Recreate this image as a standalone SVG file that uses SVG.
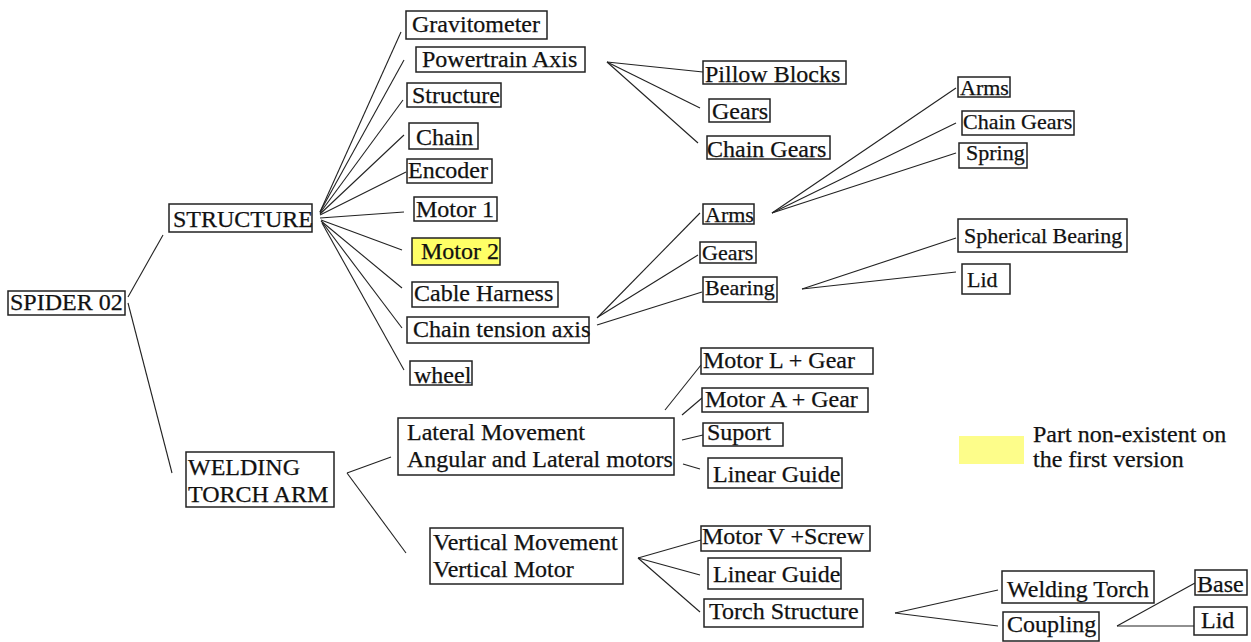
<svg xmlns="http://www.w3.org/2000/svg" width="1251" height="642" viewBox="0 0 1251 642" font-family="'Liberation Serif', 'Times New Roman', serif">
<style>
.b{fill:#fff;stroke:#222;stroke-width:1.5}
.y{fill:#ffff66;stroke:#222;stroke-width:1.5}
text{font-family:"Liberation Serif","Times New Roman",serif;font-size:24px;fill:#111;stroke:#111;stroke-width:0.25}
.s{font-size:22px}
#connectors line{stroke:#222;stroke-width:1.1}
</style>
<rect width="1251" height="642" fill="#fff"/>
<g id="connectors">
<line x1="128" y1="297" x2="163" y2="235"/>
<line x1="128" y1="303" x2="172" y2="473"/>
<line x1="320" y1="212" x2="401" y2="32"/>
<line x1="320" y1="212" x2="404" y2="60"/>
<line x1="320" y1="213" x2="403" y2="100"/>
<line x1="320" y1="214" x2="404" y2="135"/>
<line x1="320" y1="215" x2="406" y2="172"/>
<line x1="320" y1="218" x2="404" y2="212"/>
<line x1="321" y1="220" x2="402" y2="250"/>
<line x1="321" y1="221" x2="402" y2="288"/>
<line x1="322" y1="222" x2="402" y2="328"/>
<line x1="322" y1="223" x2="404" y2="370"/>
<line x1="607" y1="62" x2="703" y2="72"/>
<line x1="607" y1="62" x2="700" y2="108"/>
<line x1="607" y1="62" x2="698" y2="143"/>
<line x1="597" y1="318" x2="700" y2="213"/>
<line x1="598" y1="317" x2="698" y2="255"/>
<line x1="597" y1="325" x2="702" y2="292"/>
<line x1="772" y1="213" x2="956" y2="88"/>
<line x1="772" y1="213" x2="956" y2="123"/>
<line x1="772" y1="213" x2="956" y2="153"/>
<line x1="802" y1="289" x2="956" y2="238"/>
<line x1="802" y1="289" x2="956" y2="272"/>
<line x1="347" y1="473" x2="391" y2="457"/>
<line x1="347" y1="473" x2="406" y2="553"/>
<line x1="665" y1="410" x2="701" y2="365"/>
<line x1="682" y1="415" x2="702" y2="398"/>
<line x1="682" y1="440" x2="703" y2="435"/>
<line x1="683" y1="464" x2="700" y2="469"/>
<line x1="638" y1="558" x2="701" y2="540"/>
<line x1="638" y1="558" x2="700" y2="575"/>
<line x1="638" y1="558" x2="700" y2="612"/>
<line x1="895" y1="613" x2="998" y2="590"/>
<line x1="895" y1="613" x2="998" y2="626"/>
<line x1="1117" y1="626" x2="1195" y2="583"/>
<line x1="1117" y1="626" x2="1195" y2="626"/>
</g>
<g id="spider"><rect class="b" x="8" y="291" width="117" height="24"/><text x="10" y="310">SPIDER 02</text></g>
<g id="structure"><rect class="b" x="169" y="204" width="143" height="28"/><text x="173" y="227">STRUCTURE</text></g>
<g id="welding-torch-arm"><rect class="b" x="186" y="452" width="148" height="55"/><text x="188" y="475">WELDING</text><text x="188" y="502">TORCH ARM</text></g>
<g id="gravitometer"><rect class="b" x="406" y="11" width="141" height="28"/><text x="412" y="32">Gravitometer</text></g>
<g id="powertrain"><rect class="b" x="416" y="47" width="169" height="25"/><text x="422" y="67">Powertrain Axis</text></g>
<g id="structure-part"><rect class="b" x="407" y="83" width="94" height="24"/><text x="412" y="103">Structure</text></g>
<g id="chain"><rect class="b" x="409" y="123" width="69" height="26"/><text x="416" y="145">Chain</text></g>
<g id="encoder"><rect class="b" x="407" y="159" width="85" height="24"/><text x="408" y="178">Encoder</text></g>
<g id="motor1"><rect class="b" x="414" y="197" width="83" height="24"/><text x="416" y="217">Motor 1</text></g>
<g id="motor2"><rect class="y" x="412" y="238" width="88" height="27"/><text x="421" y="259">Motor 2</text></g>
<g id="cable-harness"><rect class="b" x="412" y="282" width="146" height="25"/><text x="414" y="301">Cable Harness</text></g>
<g id="chain-tension-axis"><rect class="b" x="407" y="317" width="182" height="26"/><text x="413" y="337">Chain tension axis</text></g>
<g id="wheel"><rect class="b" x="410" y="361" width="62" height="24"/><text x="414" y="383">wheel</text></g>
<g id="pillow-blocks"><rect class="b" x="703" y="61" width="143" height="23"/><text x="705" y="82">Pillow Blocks</text></g>
<g id="gears1"><rect class="b" x="709" y="99" width="61" height="23"/><text x="712" y="119">Gears</text></g>
<g id="chain-gears1"><rect class="b" x="707" y="136" width="123" height="23"/><text x="707" y="157">Chain Gears</text></g>
<g id="arms1"><rect class="b" x="703" y="204" width="51" height="20"/><text class="s" x="705" y="222">Arms</text></g>
<g id="gears2"><rect class="b" x="700" y="242" width="56" height="21"/><text class="s" x="702" y="260">Gears</text></g>
<g id="bearing"><rect class="b" x="703" y="277" width="74" height="25"/><text class="s" x="705" y="295">Bearing</text></g>
<g id="arms2"><rect class="b" x="958" y="77" width="52" height="20"/><text class="s" x="960" y="95">Arms</text></g>
<g id="chain-gears2"><rect class="b" x="962" y="111" width="112" height="24"/><text class="s" x="963" y="129">Chain Gears</text></g>
<g id="spring"><rect class="b" x="959" y="143" width="68" height="25"/><text class="s" x="966" y="160">Spring</text></g>
<g id="spherical-bearing"><rect class="b" x="958" y="219" width="169" height="33"/><text class="s" x="964" y="243">Spherical Bearing</text></g>
<g id="lid1"><rect class="b" x="962" y="264" width="48" height="30"/><text class="s" x="967" y="287">Lid</text></g>
<g id="lateral"><rect class="b" x="398" y="418" width="276" height="57"/><text x="407" y="440">Lateral Movement</text><text x="407" y="467">Angular and Lateral motors</text></g>
<g id="vertical"><rect class="b" x="430" y="528" width="193" height="56"/><text x="433" y="550">Vertical Movement</text><text x="433" y="577">Vertical Motor</text></g>
<g id="motor-l"><rect class="b" x="701" y="348" width="172" height="26"/><text x="703" y="368">Motor L + Gear</text></g>
<g id="motor-a"><rect class="b" x="702" y="388" width="166" height="24"/><text x="705" y="407">Motor A + Gear</text></g>
<g id="suport"><rect class="b" x="703" y="423" width="80" height="23"/><text x="707" y="440">Suport</text></g>
<g id="linear-guide1"><rect class="b" x="708" y="458" width="134" height="30"/><text x="713" y="482">Linear Guide</text></g>
<g id="motor-v"><rect class="b" x="701" y="526" width="169" height="25"/><text x="702" y="544">Motor V +Screw</text></g>
<g id="linear-guide2"><rect class="b" x="708" y="558" width="133" height="31"/><text x="713" y="582">Linear Guide</text></g>
<g id="torch-structure"><rect class="b" x="704" y="599" width="159" height="28"/><text x="709" y="619">Torch Structure</text></g>
<g id="welding-torch"><rect class="b" x="1002" y="571" width="152" height="32"/><text x="1007" y="597">Welding Torch</text></g>
<g id="coupling"><rect class="b" x="1003" y="612" width="96" height="29"/><text x="1007" y="632">Coupling</text></g>
<g id="base"><rect class="b" x="1195" y="570" width="52" height="25"/><text x="1197" y="592">Base</text></g>
<g id="lid2"><rect class="b" x="1194" y="607" width="53" height="28"/><text x="1201" y="628">Lid</text></g>
<g id="legend"><rect x="959" y="436" width="65" height="28" fill="#fdfd8a"/><text x="1033" y="442">Part non-existent on</text><text x="1033" y="467">the first version</text></g>
</svg>
